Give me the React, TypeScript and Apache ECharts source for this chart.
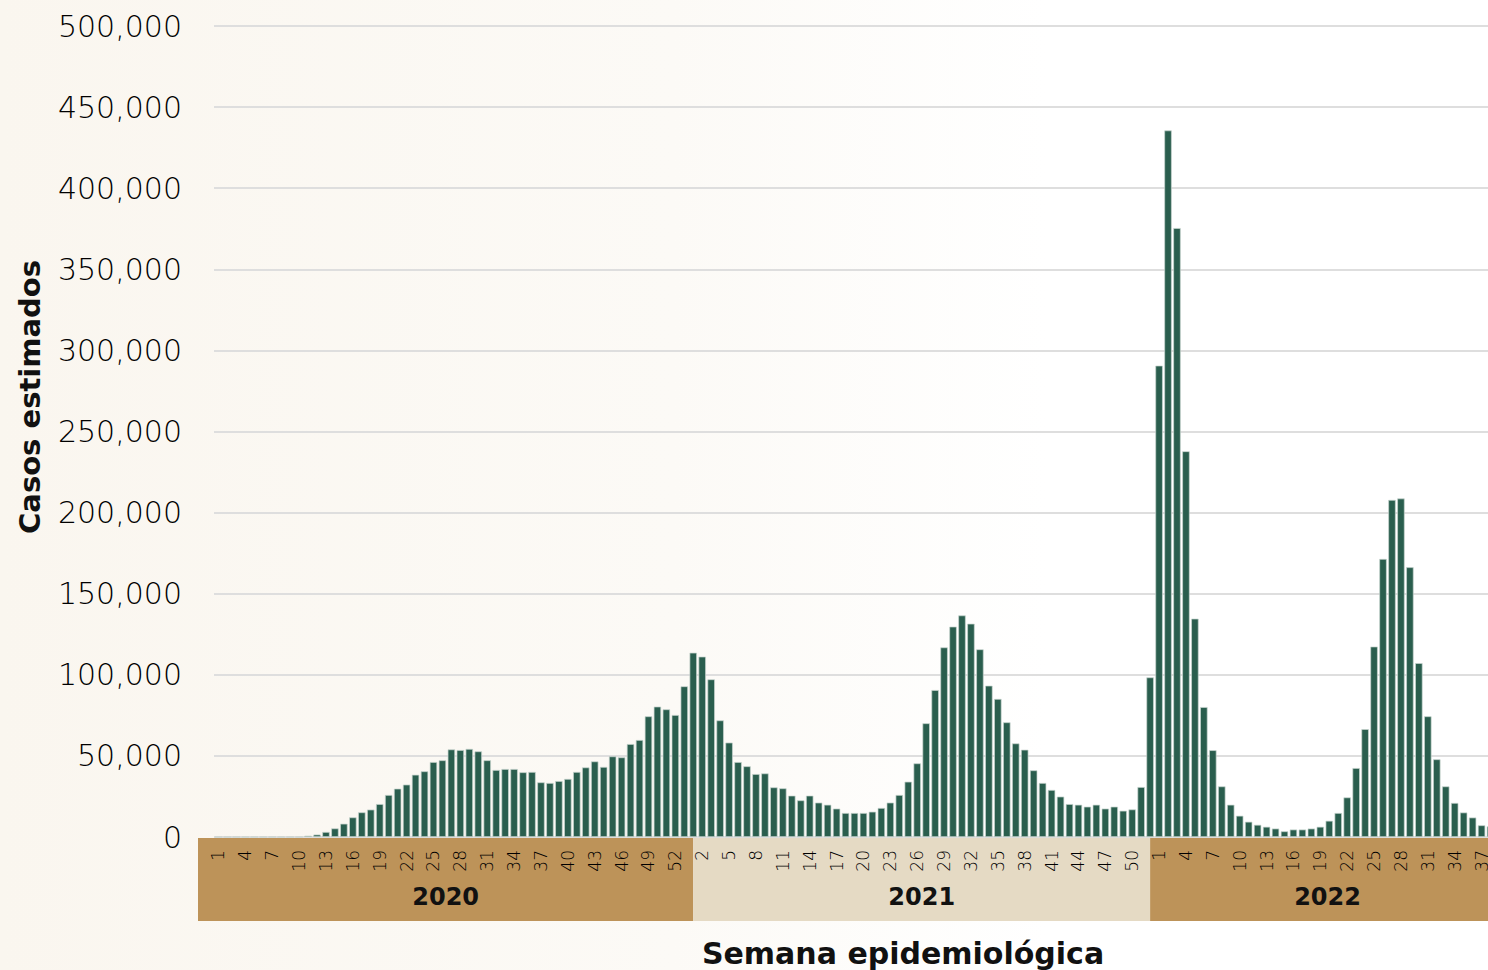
import React, { useEffect, useRef } from "react";
import * as echarts from "echarts";

// Estimated weekly cases
const weeks2020 = [
  0, 0, 0, 0, 0, 0, 0, 0, 0, 0,
  800, 1500, 3100, 5300, 8200, 12100, 15200, 16900, 20300, 25900,
  29800, 32300, 38400, 40500, 46200, 47300, 54000, 53600, 54300, 52800,
  47300, 41300, 41900, 41900, 39900, 40100, 33700, 33300, 34500, 35800,
  40100, 42900, 46600, 43200, 49700, 49100, 57300, 59800, 74400, 80400,
  78700, 75200, 92900,
];
const weeks2021 = [
  113600, 111200, 97200, 71900, 58200, 46200, 43600, 38800, 39200, 30600,
  30000, 25500, 22600, 25500, 21200, 19900, 17500, 14800, 14800, 14800,
  15600, 17900, 21200, 25900, 34100, 45400, 70100, 90600, 116900, 129700,
  136600, 131500, 115700, 93300, 85100, 70700, 57700, 53800, 41100, 33300,
  29000, 24900, 20300, 19900, 18700, 19900, 17500, 18700, 16200, 17000,
  30800, 98400,
];
const weeks2022 = [
  290600, 435600, 375400, 237800, 134600, 80100, 53500, 31200, 19900, 13100,
  9400, 7500, 6300, 5200, 3500, 4600, 4600, 5200, 6300, 10000,
  14800, 24400, 42500, 66500, 117400, 171400, 207800, 208700, 166300, 107200,
  74400, 47900, 31200, 21000, 15100, 12000, 7200, 6600,
];
const yearNames = ["2020", "2021", "2022"];
const yTicks = { min: 0, max: 500000, interval: 50000 };
const yAxisTitle = "Casos estimados";
const xAxisTitle = "Semana epidemiológica";

const yearSeries = [weeks2020, weeks2021, weeks2022];
const categories: string[] = [];
const values: number[] = [];
yearSeries.forEach((arr, yi) => {
  arr.forEach((v, wi) => {
    categories.push(`${yearNames[yi]}-${wi + 1}`);
    values.push(v);
  });
});

const FONT = "'DejaVu Sans', sans-serif";
const W = 1488;
const H = 970;
const INNER_W = 1495; // chart continues slightly past the picture's right edge

export default function App() {
  const ref = useRef<HTMLDivElement>(null);
  useEffect(() => {
    if (!ref.current) return;
    const chart = echarts.init(ref.current, null, { renderer: "svg" });
    const option: any = {
      animation: false,
      backgroundColor: {
        type: "linear",
        x: 0,
        y: 0,
        x2: 1,
        y2: 0,
        colorStops: [
          { offset: 0, color: "#faf6ef" },
          { offset: 0.45, color: "#fcfaf6" },
          { offset: 0.7, color: "#ffffff" },
          { offset: 1, color: "#ffffff" },
        ],
      },
      grid: { left: 214, right: 0, top: 26, bottom: 133, containLabel: false },
      xAxis: {
        type: "category",
        data: categories,
        z: 10,
        axisLine: { show: false },
        axisTick: { show: false },
        axisLabel: {
          interval: 2,
          rotate: 90,
          margin: 13,
          fontSize: 17,
          fontFamily: FONT,
          fontWeight: 300,
          color: "#000",
          formatter: (v: string) => v.split("-")[1],
        },
      },
      yAxis: {
        type: "value",
        min: yTicks.min,
        max: yTicks.max,
        interval: yTicks.interval,
        axisLine: { show: false },
        axisTick: { show: false },
        axisLabel: {
          margin: 32,
          fontSize: 30,
          fontFamily: FONT,
          fontWeight: 300,
          color: "#000",
          formatter: (v: number) => v.toLocaleString("en-US"),
        },
        splitLine: { lineStyle: { color: "#dedede", width: 2 } },
      },
      series: [
        {
          type: "bar",
          data: values,
          barWidth: 7.4,
          itemStyle: {
            color: "#2a5e4e",
            borderColor: "#c9d6d0",
            borderWidth: 0.7,
          },
        },
      ],
    };
    chart.setOption(option);

    const px = (i: number) => chart.convertToPixel({ xAxisIndex: 0 }, i) as number;
    const n2020 = weeks2020.length;
    const n2021 = weeks2021.length;
    const b1 = px(n2020);
    const b2 = px(n2020 + n2021 - 1);
    const bandTop = 838;
    const bandH = 83;
    const start = 198;
    const end2022 = 1505;
    const bands = [
      { x0: start, x1: b1, color: "#bd9359", name: yearNames[0] },
      { x0: b1, x1: b2, color: "#e5dac4", name: yearNames[1] },
      { x0: b2, x1: end2022, color: "#bd9359", name: yearNames[2] },
    ];
    const graphic: any[] = [];
    bands.forEach((b) => {
      graphic.push({
        type: "rect",
        z: 1,
        shape: { x: b.x0, y: bandTop, width: b.x1 - b.x0, height: bandH },
        style: { fill: b.color },
      });
      graphic.push({
        type: "text",
        z: 20,
        x: (b.x0 + b.x1) / 2,
        y: 897,
        style: {
          text: b.name,
          fontFamily: FONT,
          fontWeight: "bold",
          fontSize: 24,
          fill: "#111",
          align: "center",
          verticalAlign: "middle",
        },
      });
    });
    graphic.push({
      type: "text",
      z: 20,
      x: 903,
      y: 953,
      style: {
        text: xAxisTitle,
        fontFamily: FONT,
        fontWeight: "bold",
        fontSize: 30,
        fill: "#111",
        align: "center",
        verticalAlign: "middle",
      },
    });
    graphic.push({
      type: "text",
      z: 20,
      x: 30,
      y: 397,
      rotation: Math.PI / 2,
      style: {
        text: yAxisTitle,
        fontFamily: FONT,
        fontWeight: "bold",
        fontSize: 29,
        fill: "#111",
        align: "center",
        verticalAlign: "middle",
      },
    });
    chart.setOption({ graphic });

    return () => chart.dispose();
  }, []);
  return (
    <div
      style={{
        position: "absolute",
        left: 0,
        top: 0,
        width: W,
        height: H,
        overflow: "hidden",
      }}
    >
      <div ref={ref} style={{ width: INNER_W, height: H }} />
    </div>
  );
}
